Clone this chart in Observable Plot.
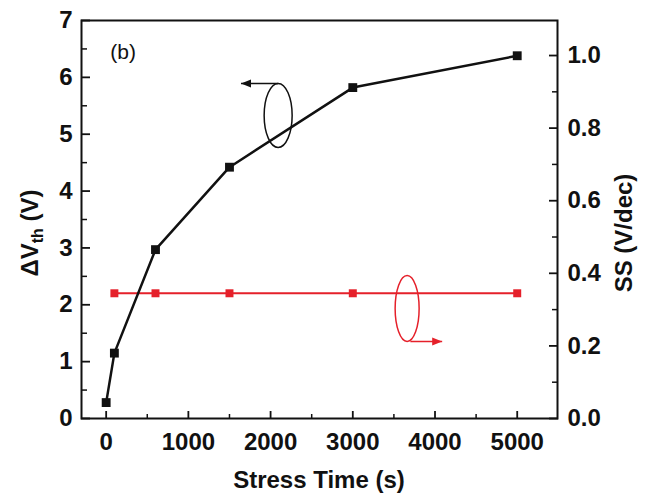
<!DOCTYPE html>
<html><head><meta charset="utf-8">
<script src="https://cdn.jsdelivr.net/npm/d3@7"></script>
<script src="https://cdn.jsdelivr.net/npm/@observablehq/plot@0.6"></script>
<style>
body{margin:0;background:#fff;}
svg{font-family:"Liberation Sans",Arial,Helvetica,sans-serif;}
</style>
</head><body><div id="chart"></div>
<script>
// ---- data ----
const stressTime = [0, 100, 600, 1500, 3000, 5000];
const deltaVth = [0.28, 1.15, 2.97, 4.42, 5.82, 6.38];
const ssTime = [100, 600, 1500, 3000, 5000];
const ssValues = [0.345, 0.345, 0.345, 0.345, 0.345];
const xTicks = [0, 1000, 2000, 3000, 4000, 5000];
const xMinor = [500, 1500, 2500, 3500, 4500];
const yTicks = [0, 1, 2, 3, 4, 5, 6, 7];
const yMinor = [0.5, 1.5, 2.5, 3.5, 4.5, 5.5, 6.5];
const ssTicks = [0, 0.2, 0.4, 0.6, 0.8, 1.0];
const ssMinor = [0.1, 0.3, 0.5, 0.7, 0.9];
const xDomain = [-300, 5490];
const yDomain = [0, 7];
const ssDomain = [0, 1.0965];
const panelLabel = "(b)";
const panelLabelPos = [{x: 207, y: 6.44}];
// annotation loops (left-axis units for black, SS units for red)
const blackLoop = [{x: 2092, y: 5.33}];
const blackArrow = [{x1: 2092, x2: 1640, y: 5.89}];
const redLoop = [{x: 3661, ss: 0.303}];
const redArrow = [{x1: 3700, x2: 4087, ss: 0.212}];

const k = yDomain[1] / ssDomain[1]; // SS -> left axis units
const RED = "#e5202a";
const TICK_FS = 24;

const main = stressTime.map((t, i) => ({t, v: deltaVth[i]}));
const ss = ssTime.map((t, i) => ({t, v: ssValues[i] * k}));

function ellipseSymbol(rx, ry) {
  const c = 0.5523;
  return {draw(ctx) {
    ctx.moveTo(rx, 0);
    ctx.bezierCurveTo(rx, c * ry, c * rx, ry, 0, ry);
    ctx.bezierCurveTo(-c * rx, ry, -rx, c * ry, -rx, 0);
    ctx.bezierCurveTo(-rx, -c * ry, -c * rx, -ry, 0, -ry);
    ctx.bezierCurveTo(c * rx, -ry, rx, -c * ry, rx, 0);
    ctx.closePath();
  }};
}
const headLeft = {draw(ctx) { ctx.moveTo(0, 0); ctx.lineTo(10, -4); ctx.lineTo(10, 4); ctx.closePath(); }};
const headRight = {draw(ctx) { ctx.moveTo(0, 0); ctx.lineTo(-10, -4); ctx.lineTo(-10, 4); ctx.closePath(); }};

const fmtSS = d => (d / k).toFixed(1);

const svg = Plot.plot({
  width: 646,
  height: 495,
  marginLeft: 81,
  marginRight: 89,
  marginTop: 20,
  marginBottom: 77,
  style: {fontFamily: '"Liberation Sans", Arial, sans-serif', fontSize: "24px", fontWeight: "bold", background: "#fff", color: "#111"},
  x: {domain: xDomain},
  y: {domain: yDomain},
  marks: [
    Plot.frame({stroke: "#111", strokeWidth: 2}),
    // axes
    Plot.axisX(xTicks, {anchor: "bottom", tickSize: -7, tickPadding: 21, tickFormat: d => String(d), label: null, strokeWidth: 1.8, fontSize: TICK_FS, fontWeight: "bold"}),
    Plot.axisX(xMinor, {anchor: "bottom", tickSize: -4, text: null, label: null, strokeWidth: 1.5}),
    Plot.axisY(yTicks, {anchor: "left", tickSize: -9, tickPadding: 18, tickFormat: d => String(d), label: null, strokeWidth: 1.8, fontSize: TICK_FS, fontWeight: "bold"}),
    Plot.axisY(yMinor, {anchor: "left", tickSize: -6, text: null, label: null, strokeWidth: 1.5}),
    Plot.axisY(ssTicks.map(v => v * k), {anchor: "right", tickSize: -9, tickPadding: 19, tickFormat: fmtSS, label: null, strokeWidth: 1.8, fontSize: TICK_FS, fontWeight: "bold"}),
    Plot.axisY(ssMinor.map(v => v * k), {anchor: "right", tickSize: -6, text: null, label: null, strokeWidth: 1.5}),
    // SS series (red)
    Plot.line(ss, {x: "t", y: "v", stroke: RED, strokeWidth: 2}),
    Plot.dot(ss, {x: "t", y: "v", symbol: "square", r: 4.5, fill: RED}),
    // delta Vth series (black)
    Plot.line(main, {x: "t", y: "v", stroke: "#111", strokeWidth: 2.5}),
    Plot.dot(main, {x: "t", y: "v", symbol: "square", r: 5, fill: "#111"}),
    // annotations
    Plot.dot(blackLoop, {x: "x", y: "y", symbol: ellipseSymbol(14, 32), fill: "none", stroke: "#111", strokeWidth: 1.5}),
    Plot.link(blackArrow, {x1: "x1", x2: "x2", y1: "y", y2: "y", stroke: "#111", strokeWidth: 1.5}),
    Plot.dot(blackArrow, {x: "x2", y: "y", symbol: headLeft, fill: "#111", stroke: "none"}),
    Plot.dot(redLoop, {x: "x", y: d => d.ss * k, symbol: ellipseSymbol(12, 33), fill: "none", stroke: RED, strokeWidth: 1.5}),
    Plot.link(redArrow, {x1: "x1", x2: "x2", y1: d => d.ss * k, y2: d => d.ss * k, stroke: RED, strokeWidth: 1.5}),
    Plot.dot(redArrow, {x: "x2", y: d => d.ss * k, symbol: headRight, fill: RED, stroke: "none"}),
    Plot.text(panelLabelPos, {x: "x", y: "y", text: () => panelLabel, fontSize: 21, fontWeight: "normal", fill: "#111"})
  ]
});

const s = d3.select(svg);
// force tick label size
s.selectAll('g[aria-label$="tick label"]').attr("font-size", TICK_FS).attr("font-weight", "bold");
// x title
s.append("text").attr("x", 319).attr("y", 488).attr("text-anchor", "middle")
  .attr("font-size", 24).attr("font-weight", "bold").attr("fill", "#111").text("Stress Time (s)");
// left title with subscript
const lt = s.append("text").attr("transform", "translate(38,233) rotate(-90)").attr("text-anchor", "middle")
  .attr("font-size", 24).attr("font-weight", "bold").attr("fill", "#111");
lt.append("tspan").text("ΔV");
lt.append("tspan").attr("font-size", 16).attr("dy", 5).text("th");
lt.append("tspan").attr("dy", -5).text(" (V)");
// right title
s.append("text").attr("transform", "translate(632,233) rotate(-90)").attr("text-anchor", "middle")
  .attr("font-size", 24).attr("font-weight", "bold").attr("fill", "#111").text("SS (V/dec)");

document.getElementById("chart").appendChild(svg);
</script>
</body></html>
